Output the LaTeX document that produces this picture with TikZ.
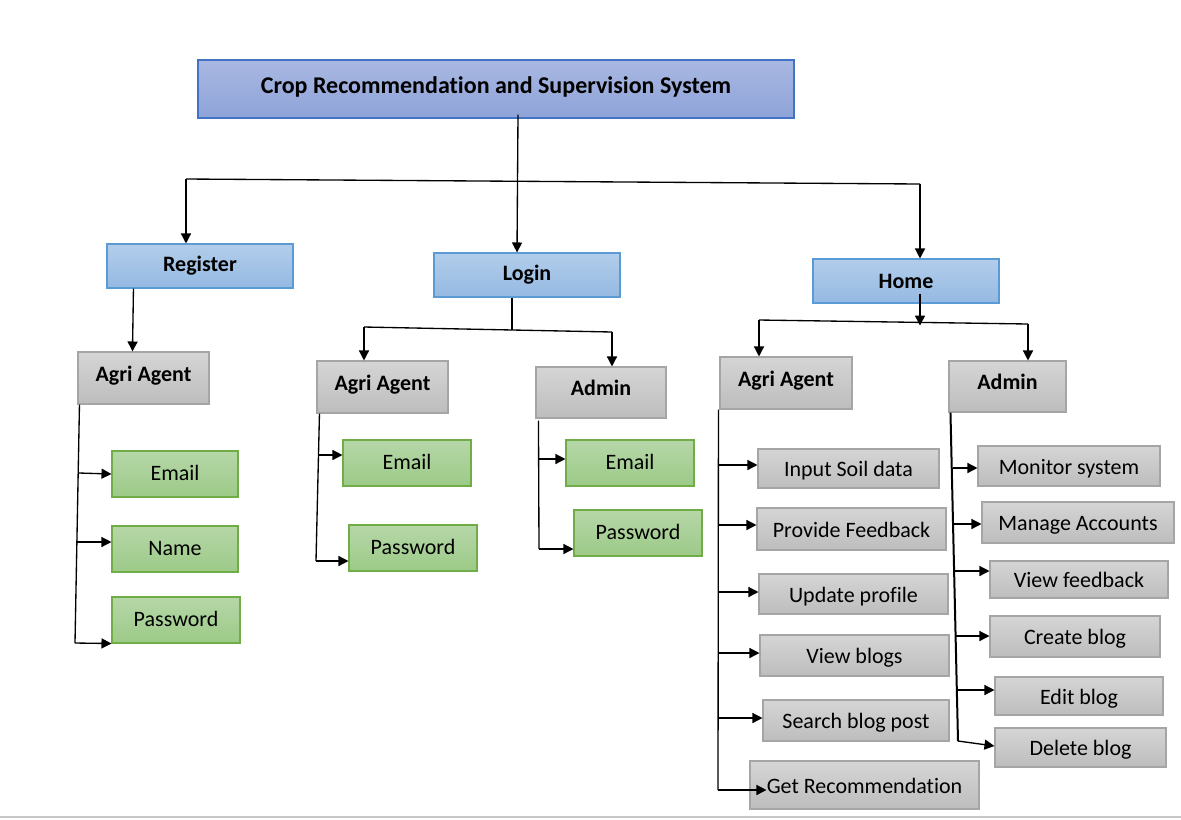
\documentclass[tikz,border=0pt]{standalone}
\usepackage{fontspec}
\setmainfont{Carlito}[RawFeature=-liga]
\usetikzlibrary{arrows.meta,calc}
\definecolor{titletop}{HTML}{A9B8E2}
\definecolor{titlebot}{HTML}{8EA3D8}
\definecolor{titleline}{HTML}{4472C4}
\definecolor{bluetop}{HTML}{B2CDEA}
\definecolor{bluebot}{HTML}{95B9E3}
\definecolor{blueline}{HTML}{5B9BD5}
\definecolor{graytop}{HTML}{D5D5D5}
\definecolor{graybot}{HTML}{BDBDBD}
\definecolor{grayline}{HTML}{A5A5A5}
\definecolor{greentop}{HTML}{B6D7A8}
\definecolor{greenbot}{HTML}{9CCA87}
\definecolor{greenline}{HTML}{70AD47}
\begin{document}
\begin{tikzpicture}[x=0.75pt,y=-0.75pt,
  box/.style n args={4}{at={({(#1+#3)/2},{(#2+#4)/2})},
    minimum width={(#3-#1)*0.75pt}, minimum height={(#4-#2)*0.75pt},
    inner sep=0pt, draw, line width=0.8pt, font=\fontsize{16.5}{19}\selectfont},
  titlebox/.style={top color=titletop, bottom color=titlebot, draw=titleline, font=\fontsize{18}{21}\selectfont\bfseries},
  bluebox/.style={top color=bluetop, bottom color=bluebot, draw=blueline, font=\fontsize{16.5}{19}\selectfont\bfseries},
  headbox/.style={top color=graytop, bottom color=graybot, draw=grayline, font=\fontsize{16.5}{19}\selectfont\bfseries, text height=10.5pt, text depth=6pt},
  graybox/.style={top color=graytop, bottom color=graybot, draw=grayline, text height=12pt, text depth=0pt},
  greenbox/.style={top color=greentop, bottom color=greenbot, draw=greenline, text height=11pt, text depth=1pt},
  conn/.style={line width=1pt, black},
  arr/.style={conn, -{Triangle[length=7.5pt,width=7.5pt]}}]
\useasboundingbox (0,0) rectangle (1181,819);
\draw[line width=0.9pt, color=black!22] (0,817) -- (1181,817);

% top levels
\node[box={198}{60}{794}{118}, titlebox, text height=12pt, text depth=6pt] (title) {Crop Recommendation and Supervision System};
\node[box={107}{244}{293}{288}, bluebox] (reg) {Register};
\node[box={434}{253}{620}{297}, bluebox] (login) {Login};
\node[box={813}{259}{999}{303}, bluebox] (home) {Home};

% second level
\node[box={78}{352}{209}{404}, headbox] (ra) {Agri Agent};
\node[box={317}{361}{448}{413}, headbox] (la) {Agri Agent};
\node[box={536}{367}{666}{418}, headbox] (ld) {Admin};
\node[box={720}{357}{852}{409}, headbox] (ha) {Agri Agent};
\node[box={949}{361}{1066}{412}, headbox] (hd) {Admin};

% register leaves
\node[box={112}{451}{238}{497}, greenbox] (re1) {Email};
\node[box={112}{526}{238}{572}, greenbox] (re2) {Name};
\node[box={112}{597}{240}{643}, greenbox] (re3) {Password};
% login leaves
\node[box={343}{440}{471}{486}, greenbox] (le1) {Email};
\node[box={349}{525}{477}{571}, greenbox] (le2) {Password};
\node[box={566}{440}{694}{486}, greenbox] (de1) {Email};
\node[box={574}{510}{702}{556}, greenbox] (de2) {Password};
% home agri agent leaves
\node[box={758}{449}{939}{488}, graybox] (hi1) {Input Soil data};
\node[box={757}{508}{946}{550}, graybox] (hi2) {Provide Feedback};
\node[box={759}{574}{948}{614}, graybox] (hi3) {Update profile};
\node[box={760}{635}{949}{676}, graybox] (hi4) {View blogs};
\node[box={763}{700}{949}{741}, graybox] (hi5) {Search blog post};
\node[box={750}{761}{979}{809}, graybox] (hi6) {Get Recommendation};
% home admin leaves
\node[box={978}{446}{1160}{486}, graybox] (hd1) {Monitor system};
\node[box={982}{502}{1174}{543}, graybox] (hd2) {Manage Accounts};
\node[box={990}{561}{1168}{598}, graybox] (hd3) {View feedback};
\node[box={990}{616}{1160}{657}, graybox] (hd4) {Create blog};
\node[box={995}{677}{1163}{715}, graybox] (hd5) {Edit blog};
\node[box={995}{728}{1166}{767}, graybox] (hd6) {Delete blog};

% title to first level
\coordinate (busL) at (186,179);
\coordinate (busR) at (920,184);
\draw[conn] (busL) -- (busR);
\draw[arr] ($(title.south)+(22,-4)$) -- ($(login.north)+(-10,0)$);
\draw[arr] (busL) -- (busL |- reg.north);
\draw[arr] (busR) -- (busR |- home.north);

% register
\draw[arr] ($(reg.south west)+(27,0)$) -- ($(ra.north west)+(55,0)$);
\coordinate (rt) at ($(ra.south west)+(2,0)$);
\coordinate (rb) at (75,643);
\draw[conn] (rt) -- (rb);
\draw[arr] (79,473) -- (re1.west);
\draw[arr] (77,542) -- (re2.west |- 0,542);
\draw[arr] (rb) -- (re3.south west);

% login
\coordinate (lj) at ($(login.south)+(-15,0)$);
\coordinate (lbL) at (364,327);
\coordinate (lbR) at (612,332);
\draw[conn] (lj) -- ($(lj)+(0,32)$);
\draw[conn] (lbL) -- (lbR);
\draw[arr] (lbL) -- (lbL |- la.north);
\draw[arr] (lbR) -- (lbR |- ld.north);
\coordinate (lt) at ($(la.south west)+(3,0)$);
\coordinate (lb) at (316,561);
\draw[conn] (lt) -- (lb);
\draw[arr] (319,455) -- (le1.west |- 0,455);
\draw[arr] (lb) -- (le2.west |- 0,561);
\coordinate (dt) at ($(ld.south west)+(3,2)$);
\coordinate (db) at (539,549);
\draw[conn] (dt) -- (db);
\draw[arr] (539,459) -- (de1.west |- 0,459);
\draw[arr] (db) -- (de2.west |- 0,549);

% home
\coordinate (hbL) at (759,320);
\coordinate (hbR) at (1028,324);
\draw[arr] ($(home.south)+(14,-10)$) -- ($(home.south)+(14,22)$);
\draw[conn] (hbL) -- (hbR);
\draw[arr] (hbL) -- (hbL |- ha.north);
\draw[arr] (hbR) -- (hbR |- hd.north);

\coordinate (ht) at ($(ha.south west)+(-1,0)$);
\coordinate (hb) at (718,790);
\draw[conn] (ht) -- (hb);
\draw[arr] (719,465) -- (hi1.west |- 0,465);
\draw[arr] (719,525) -- (hi2.west |- 0,525);
\draw[arr] (719,592) -- (hi3.west |- 0,592);
\draw[arr] (719,653) -- (hi4.west |- 0,653);
\draw[arr] (719,718) -- (hi5.west |- 0,718);
\draw[arr] (hb) -- ($(hi6.west |- 0,790)+(17,0)$);

\coordinate (at) at ($(hd.south west)+(2,0)$);
\coordinate (ab) at (958,741);
\draw[conn, line width=1.5pt] (at) -- (ab);
\draw[arr] (953,468) -- (hd1.west |- 0,468);
\draw[arr] (954,524) -- (hd2.west |- 0,524);
\draw[arr] (955,571) -- (hd3.west |- 0,571);
\draw[arr] (956,636) -- (hd4.west |- 0,636);
\draw[arr] (957,690) -- (hd5.west |- 0,690);
\draw[arr] (ab) -- (hd6.west |- 0,746);
\end{tikzpicture}
\end{document}
